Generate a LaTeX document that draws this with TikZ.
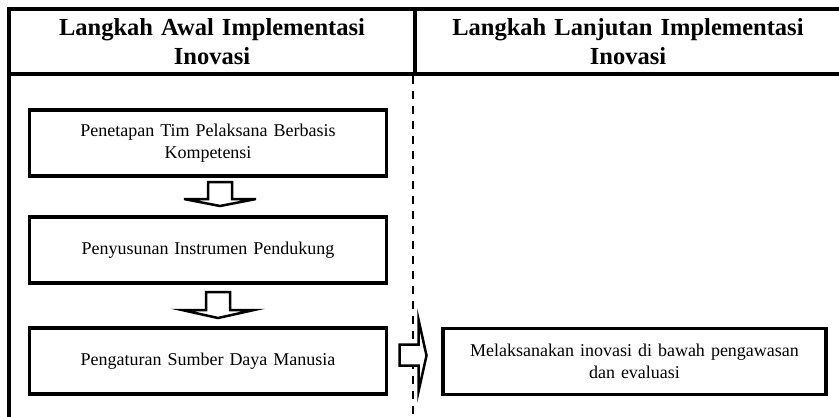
\documentclass[tikz,border=0pt]{standalone}
\usepackage{fontspec}
\setmainfont{Liberation Serif}
\usetikzlibrary{calc}
\begin{document}
\begin{tikzpicture}[x=1pt,y=-1pt,
  frame/.style={line width=4pt},
  colhead/.style={align=center, text width=390pt, inner sep=0pt,
    font=\bfseries\fontsize{24.5}{29}\selectfont},
  stepbox/.style={draw, line width=3.5pt, minimum width=357pt, minimum height=66pt,
    inner sep=0pt, outer sep=0pt, align=center, text width=340pt,
    font=\fontsize{18}{22}\selectfont},
  blockarrow/.style={draw, fill=white, line width=2.5pt, line join=miter}]
  \useasboundingbox (0,0) rectangle (839,416);

  % table frame: outer border, header rule and column divider
  \draw[frame] (9,420) -- (9,9) -- (845,9);
  \draw[frame] (9,74) -- (845,74);
  \draw[frame] (415,9) -- (415,74);
  \draw[line width=2pt, dash pattern=on 8pt off 7pt] (413,76) -- (413,416);

  % column headings
  \node[colhead] (h1) at (212,42) {Langkah Awal Implementasi\\Inovasi};
  \node[colhead] (h2) at (628,42) {Langkah Lanjutan Implementasi\\Inovasi};

  % steps
  \node[stepbox] (b1) at (208,143) {Penetapan Tim Pelaksana Berbasis\\Kompetensi};
  \node[stepbox] (b2) at (208,250) {Penyusunan Instrumen Pendukung};
  \node[stepbox] (b3) at (208,361) {Pengaturan Sumber Daya Manusia};
  \node[stepbox, minimum width=383pt, text width=370pt] (b4) at (634.5,361.5)
    {Melaksanakan inovasi di bawah pengawasan\\dan evaluasi};

  % block arrows between the steps
  \draw[blockarrow, shift={($(b1.south)+(12,0)$)}]
    (-12,6) -- (12,6) -- (12,23) -- (36,23) -- (0,30) -- (-36,23) -- (-12,23) -- cycle;
  \draw[blockarrow, shift={($(b2.south)+(10,0)$)}]
    (-12,9) -- (12,9) -- (12,27) -- (36,27) -- (0,35) -- (-36,27) -- (-12,27) -- cycle;
  \draw[blockarrow, shift={(b3.east)}]
    (13,-16.5) -- (32,-16.5) -- (32,-41.5) -- (40,-5.5) -- (32,30.5) -- (32,4.5) -- (13,4.5) -- cycle;
\end{tikzpicture}
\end{document}
